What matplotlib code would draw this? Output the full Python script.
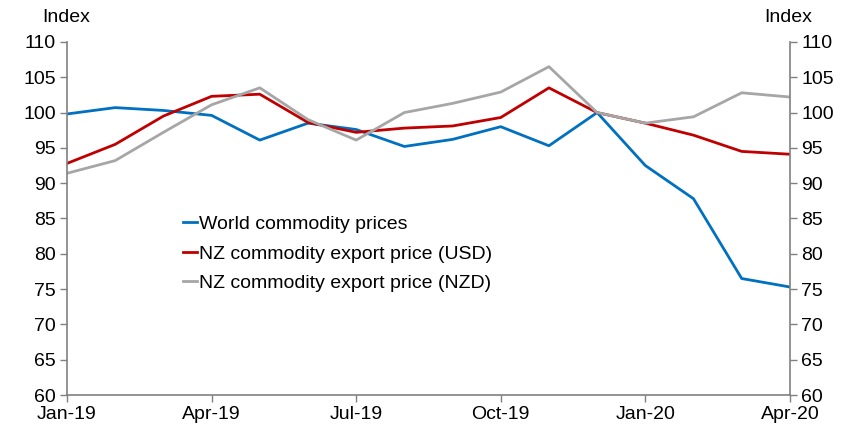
import matplotlib.pyplot as plt

plt.rcParams["font.family"] = ["Liberation Sans", "DejaVu Sans"]

months = ["Jan-19", "Feb-19", "Mar-19", "Apr-19", "May-19", "Jun-19", "Jul-19", "Aug-19",
          "Sep-19", "Oct-19", "Nov-19", "Dec-19", "Jan-20", "Feb-20", "Mar-20", "Apr-20"]
world = [99.8, 100.7, 100.3, 99.6, 96.1, 98.5, 97.6, 95.2,
         96.2, 98.0, 95.3, 100.0, 92.5, 87.8, 76.5, 75.3]
nz_usd = [92.8, 95.5, 99.5, 102.3, 102.6, 98.6, 97.2, 97.8,
          98.1, 99.3, 103.5, 100.0, 98.5, 96.8, 94.5, 94.1]
nz_nzd = [91.4, 93.2, 97.2, 101.1, 103.5, 99.0, 96.1, 100.0,
          101.3, 102.9, 106.5, 100.0, 98.5, 99.4, 102.8, 102.2]
yticks = list(range(60, 111, 5))

x = list(range(len(months)))
spine_c = "#808080"

fig = plt.figure(figsize=(8.43, 4.28), dpi=100)
ax = fig.add_axes([0.0795, 0.077, 0.8575, 0.825])

ax.plot(x, world, color="#0070C0", lw=2, label="World commodity prices")
ax.plot(x, nz_usd, color="#C00000", lw=2, label="NZ commodity export price (USD)")
ax.plot(x, nz_nzd, color="#A6A6A6", lw=2, label="NZ commodity export price (NZD)")

ax.set_xlim(0, len(months) - 1)
ax.set_ylim(60, 110)
ax.set_yticks(yticks)
ax.set_xticks(x[::3])
ax.set_xticklabels(months[::3])

ax2 = ax.twinx()
ax2.set_ylim(60, 110)
ax2.set_yticks(yticks)

for a in (ax, ax2):
    for s in a.spines.values():
        s.set_visible(False)
    a.tick_params(labelsize=14, color=spine_c, length=5, width=1, pad=3)
ax.spines["left"].set_visible(True)
ax.spines["bottom"].set_visible(True)
ax2.spines["right"].set_visible(True)
for s in (ax.spines["left"], ax.spines["bottom"], ax2.spines["right"]):
    s.set_color(spine_c)
    s.set_linewidth(1.2)

fig.text(66 / 843, 1 - 18 / 428, "Index", ha="center", va="center", fontsize=14)
fig.text(788 / 843, 1 - 18 / 428, "Index", ha="center", va="center", fontsize=14)

ax.legend(loc="upper left", bbox_to_anchor=(0.149, 0.53), frameon=False, fontsize=14,
          handlelength=0.75, handletextpad=0.12, labelspacing=0.6, borderaxespad=0)

fig.savefig("out.png", dpi=100)
